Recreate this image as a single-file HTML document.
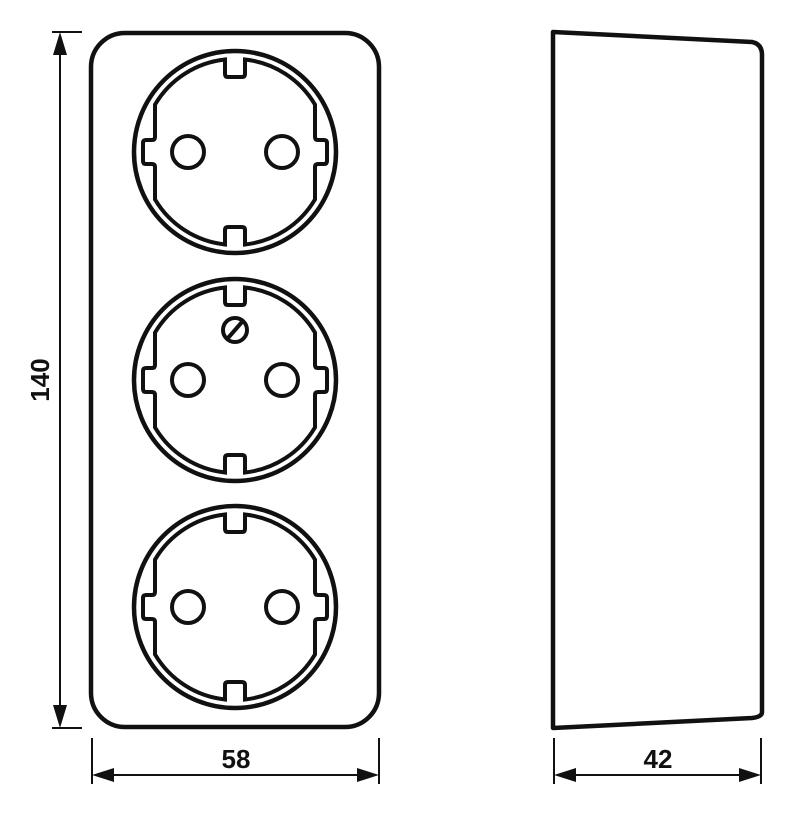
<!DOCTYPE html>
<html><head><style>body{margin:0;background:#fff}svg{display:block}</style></head><body>
<svg width="794" height="814" viewBox="0 0 794 814" xmlns="http://www.w3.org/2000/svg">
<defs>
<g id="sock" fill="none" stroke="#111">
<circle r="101" stroke-width="4.5"/>
<path stroke-width="4" d="M-10,-92.5 L-10,-78 Q-10,-75 -7,-75 L7,-75 Q10,-75 10,-78 L10,-92.5 A93,93 0 0 1 80,-47.4 L80,-15 Q80,-12 83,-12 L89,-12 Q92,-12 92,-9 L92,9 Q92,12 89,12 L83,12 Q80,12 80,15 L80,47.4 A93,93 0 0 1 10,92.5 L10,78 Q10,75 7,75 L-7,75 Q-10,75 -10,78 L-10,92.5 A93,93 0 0 1 -80,47.4 L-80,15 Q-80,12 -83,12 L-89,12 Q-92,12 -92,9 L-92,-9 Q-92,-12 -89,-12 L-83,-12 Q-80,-12 -80,-15 L-80,-47.4 A93,93 0 0 1 -10,-92.5 Z"/>
<circle cx="-47" cy="0" r="16" stroke-width="4"/>
<circle cx="47" cy="0" r="16" stroke-width="4"/>
</g>
</defs>
<rect x="91" y="33" width="288" height="694" rx="34" fill="none" stroke="#111" stroke-width="4.5"/>
<use href="#sock" x="235" y="152"/>
<use href="#sock" x="235" y="380"/>
<use href="#sock" x="235" y="607"/>
<circle cx="235" cy="330" r="12" fill="none" stroke="#111" stroke-width="4"/>
<line x1="228" y1="338" x2="242" y2="322" stroke="#111" stroke-width="4"/>
<path d="M553,32 L752,42 Q762,44 762,55 L762,712 Q762,717 752,718 L553,728 Z" fill="none" stroke="#111" stroke-width="4.5" stroke-linejoin="round"/>
<g stroke="#111" stroke-width="2" fill="#111">
<line x1="52" y1="32" x2="82" y2="32"/><line x1="52" y1="728" x2="82" y2="728"/>
<line x1="60" y1="40" x2="60" y2="720"/>
<path d="M53,55 L60,32 L67,55Z M53,705 L60,728 L67,705Z" stroke="none"/>
<line x1="92" y1="738" x2="92" y2="784"/><line x1="379" y1="738" x2="379" y2="784"/>
<line x1="100" y1="775" x2="372" y2="775"/>
<path d="M114,768 L92,775 L114,782Z M357,768 L379,775 L357,782Z" stroke="none"/>
<line x1="554" y1="738" x2="554" y2="784"/><line x1="761" y1="738" x2="761" y2="784"/>
<line x1="562" y1="775" x2="754" y2="775"/>
<path d="M576,768 L554,775 L576,782Z M739,768 L761,775 L739,782Z" stroke="none"/>
</g>
<g font-family="Liberation Sans, sans-serif" font-weight="bold" font-size="26" fill="#111" text-anchor="middle">
<text x="236" y="768">58</text>
<text x="658" y="768">42</text>
<text transform="translate(49,380) rotate(-90)">140</text>
</g>
</svg>
</body></html>
